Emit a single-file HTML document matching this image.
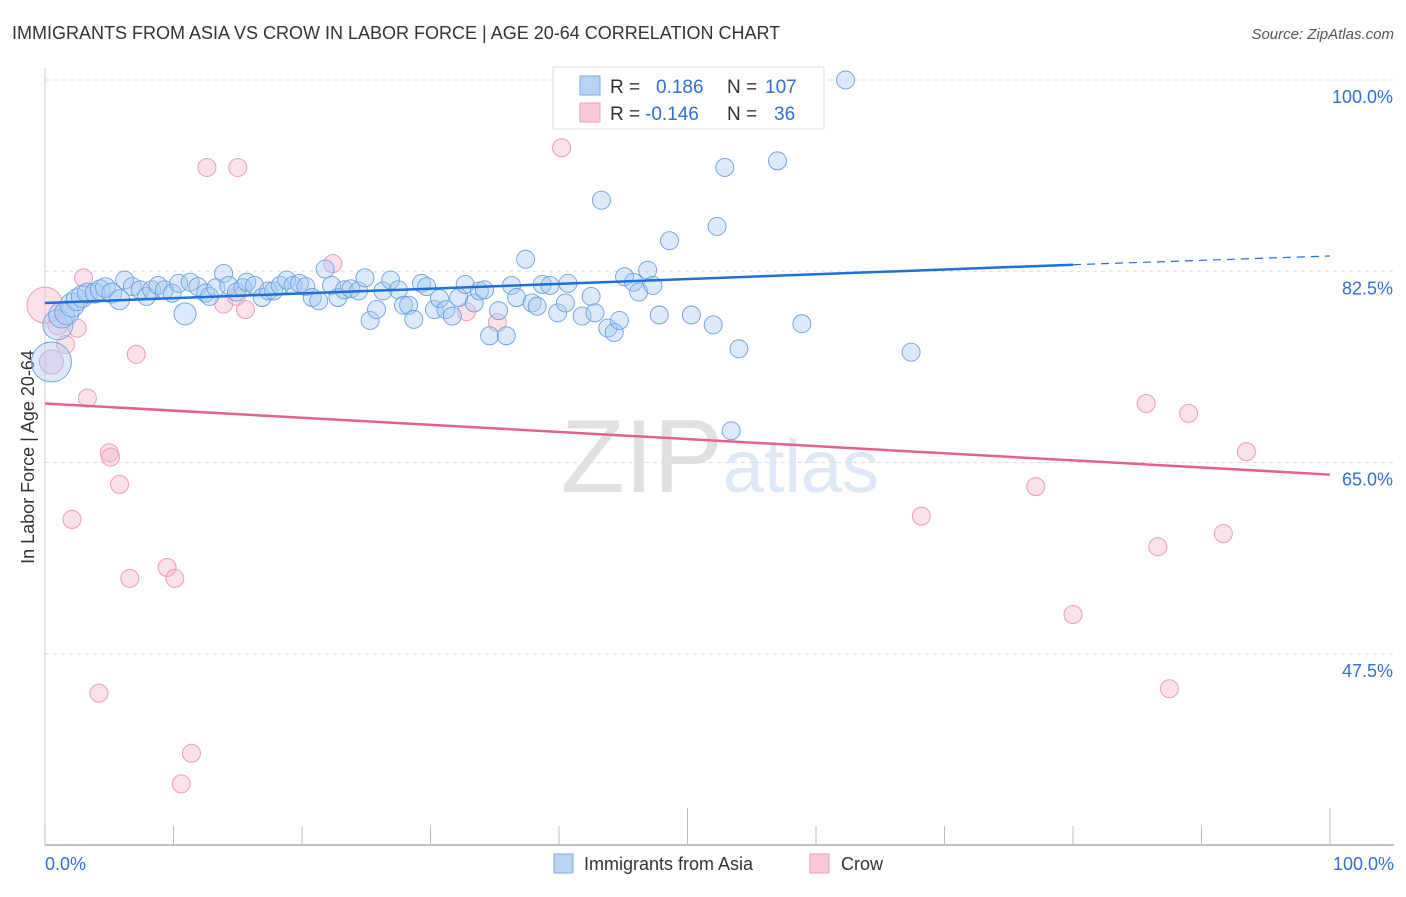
<!DOCTYPE html>
<html><head><meta charset="utf-8"><style>
body{margin:0;background:#fff;font-family:"Liberation Sans",sans-serif}
svg text{font-family:"Liberation Sans",sans-serif}
</style></head><body>
<svg id="c" width="1406" height="892" xmlns="http://www.w3.org/2000/svg">
<text x="12" y="39" font-size="18" fill="#333">IMMIGRANTS FROM ASIA VS CROW IN LABOR FORCE | AGE 20-64 CORRELATION CHART</text>
<text x="1394" y="39" font-size="15" fill="#555" font-style="italic" text-anchor="end">Source: ZipAtlas.com</text>
<text x="720" y="492" font-size="104" fill="#e6e6e6" text-anchor="middle" font-family="Liberation Serif"><tspan fill="#e0e0e0">ZIP</tspan><tspan fill="#dce8f5" font-family="Liberation Sans" font-size="74">atlas</tspan></text>
<text transform="translate(34,457) rotate(-90)" font-size="18" fill="#333" text-anchor="middle">In Labor Force | Age 20-64</text>
<g id="grid"></g><g id="axes"></g><g id="pts"></g><g id="trend"></g>
<g>
<rect x="553" y="67" width="271" height="62" fill="#fff" stroke="#ddd"/>
<rect x="580" y="76" width="20" height="19" fill="#b8d4f5" stroke="#7aaae6"/>
<rect x="580" y="103" width="20" height="19" fill="#fbc9d8" stroke="#f09ab5"/>
<text x="610" y="93" font-size="19" fill="#333">R = </text><text x="656" y="93" font-size="19" fill="#2f6fd6">0.186</text>
<text x="727" y="93" font-size="19" fill="#333">N = </text><text x="765" y="93" font-size="19" fill="#2f6fd6">107</text>
<text x="610" y="120" font-size="19" fill="#333">R = </text><text x="645" y="120" font-size="19" fill="#2f6fd6">-0.146</text>
<text x="727" y="120" font-size="19" fill="#333">N = </text><text x="774" y="120" font-size="19" fill="#2f6fd6">36</text>
</g>
<g>
<rect x="554" y="854" width="19" height="19" fill="#b8d4f5" stroke="#7aaae6"/>
<text x="584" y="870" font-size="18" fill="#333">Immigrants from Asia</text>
<rect x="810" y="854" width="19" height="19" fill="#fbc9d8" stroke="#f09ab5"/>
<text x="841" y="870" font-size="18" fill="#333">Crow</text>
</g>
</svg>
<script>
const yTicks=[100,82.5,65,47.5];
const yTickLabels=["100.0%","82.5%","65.0%","47.5%"];
const blueX=[0.5,1.0,1.3,1.7,2.1,2.5,2.9,3.3,3.9,4.3,4.7,5.2,5.8,6.2,6.8,7.4,7.9,8.3,8.8,9.3,9.9,10.4,10.9,11.3,11.9,12.5,12.8,13.3,13.9,14.3,14.9,15.4,15.7,16.3,16.9,17.4,17.8,18.3,18.8,19.3,19.8,20.3,20.8,21.3,21.8,22.3,22.8,23.3,23.8,24.4,24.9,25.3,25.8,26.3,26.9,27.5,27.9,28.3,28.7,29.3,29.7,30.3,30.7,31.2,31.7,32.2,32.7,33.4,33.8,34.2,34.6,35.3,35.9,36.3,36.7,37.4,37.9,38.3,38.7,39.3,39.9,40.5,40.7,41.8,42.5,42.8,43.3,43.8,44.3,44.7,45.1,45.8,46.2,46.9,47.3,47.8,48.1,48.6,50.3,52.0,52.3,52.9,53.4,54.0,57.0,58.9,62.3,67.4];
const blueY=[74.2,77.6,78.5,78.7,79.4,79.9,80.2,80.5,80.5,80.8,81.0,80.5,79.9,81.7,81.1,80.8,80.2,80.8,81.2,80.8,80.5,81.4,78.6,81.5,81.1,80.5,80.2,81.0,82.3,81.2,80.6,81.0,81.5,81.2,80.1,80.7,80.7,81.2,81.7,81.2,81.4,81.1,80.1,79.8,82.7,81.2,80.1,80.8,80.9,80.7,81.9,78.0,79.0,80.7,81.7,80.8,79.4,79.4,78.1,81.4,81.1,79.0,80.0,79.0,78.4,80.1,81.3,79.6,80.7,80.8,76.6,78.9,76.6,81.2,80.1,83.6,79.6,79.3,81.3,81.2,78.7,79.6,81.4,78.4,80.2,78.7,89.0,77.3,76.9,78.0,82.0,81.5,80.6,82.6,81.2,78.5,100,85.3,78.5,77.6,86.6,92.0,67.9,75.4,92.6,77.7,100,75.1];
const blueR=[20,15,13,12,12,11,11,10,10,10,10,10,10,9,9,9,9,9,9,9,9,9,11,9,9,9,9,9,9,9,9,9,9,9,9,9,9,9,9,9,9,9,9,9,9,9,9,9,9,9,9,9,9,9,9,9,9,9,9,9,9,9,9,9,9,9,9,9,9,9,9,9,9,9,9,9,9,9,9,9,9,9,9,9,9,9,9,9,9,9,9,9,9,9,9,9,9,9,9,9,9,9,9,9,9,9,9,9];
const pinkX=[0,0.5,1.0,1.6,2.5,3.0,3.3,2.1,5.0,5.1,5.8,6.6,7.1,9.5,10.1,4.2,11.4,10.6,12.6,15.0,13.9,14.9,15.6,22.4,32.8,35.2,40.2,68.2,77.1,80.0,85.7,86.6,89.0,87.5,91.7,93.5];
const pinkY=[79.4,74.2,77.6,75.8,77.3,81.9,70.9,59.8,65.9,65.5,63.0,54.4,74.9,55.4,54.4,43.9,38.4,35.6,92.0,92.0,79.5,80.2,79.0,83.2,78.8,77.8,93.8,60.1,62.8,51.1,70.4,57.3,69.5,44.3,58.5,66.0];
const pinkR=[18,12,10,9,9,9,9,9,9,9,9,9,9,9,9,9,9,9,9,9,9,9,9,9,9,9,9,9,9,9,9,9,9,9,9,9];
const blueTrend=[79.6,83.1,83.9];
const pinkTrend=[70.4,63.9];
const X=v=>45+v*12.85, Y=v=>80+(100-v)*10.93;
const NS="http://www.w3.org/2000/svg";
function mk(p,t,a){const e=document.createElementNS(NS,t);for(const k in a)e.setAttribute(k,a[k]);document.getElementById(p).appendChild(e);return e;}
yTicks.forEach((v,i)=>{
 const l=mk('grid','line',{x1:45,x2:1394,y1:Y(v),y2:Y(v),stroke:'#ddd','stroke-dasharray':'4,4'});
 
 
 const t=mk('grid','text',{x:1393,y:Y(v)+23,'font-size':18,fill:'#2f6fd6','text-anchor':'end'});
 t.textContent=yTickLabels[i];
 
 
});
const ax=mk('axes','line',{x1:45,x2:1394,y1:845,y2:845,stroke:'#aaa','stroke-width':1.5});


const ay=mk('axes','line',{x1:45,x2:45,y1:68,y2:845,stroke:'#ccc'});


for(let i=0;i<=10;i++){const tk=mk('axes','line',{x1:X(i*10),x2:X(i*10),y1:(i==5||i==10)?808:826,y2:845,stroke:'#bbb'});
 
 }
[[0,'0.0%','start',45],[100,'100.0%','end',1394]].forEach(d=>{const t=mk('axes','text',{x:d[3],y:870,'font-size':18,fill:'#2f6fd6','text-anchor':d[2]});t.textContent=d[1];
 
 });
pinkX.forEach((x,i)=>{const c=mk('pts','circle',{cx:X(x),cy:Y(pinkY[i]),r:pinkR[i],fill:'rgba(248,180,200,0.4)',stroke:'#f09ab5','stroke-width':1});
 
 });
blueX.forEach((x,i)=>{const c=mk('pts','circle',{cx:X(x),cy:Y(blueY[i]),r:blueR[i],fill:'rgba(165,200,242,0.4)',stroke:'#6a9fe0','stroke-width':0.9});
 
 });
const b1=mk('trend','line',{x1:X(0),y1:Y(blueTrend[0]),x2:X(80),y2:Y(blueTrend[1]),stroke:'#1f6fd8','stroke-width':2.5});


const b2=mk('trend','line',{x1:X(80),y1:Y(blueTrend[1]),x2:X(100),y2:Y(blueTrend[2]),stroke:'#1f6fd8','stroke-width':1.2,'stroke-dasharray':'8,6'});


const p1=mk('trend','line',{x1:X(0),y1:Y(pinkTrend[0]),x2:X(100),y2:Y(pinkTrend[1]),stroke:'#e5608c','stroke-width':2.5});


</script>
</body></html>
